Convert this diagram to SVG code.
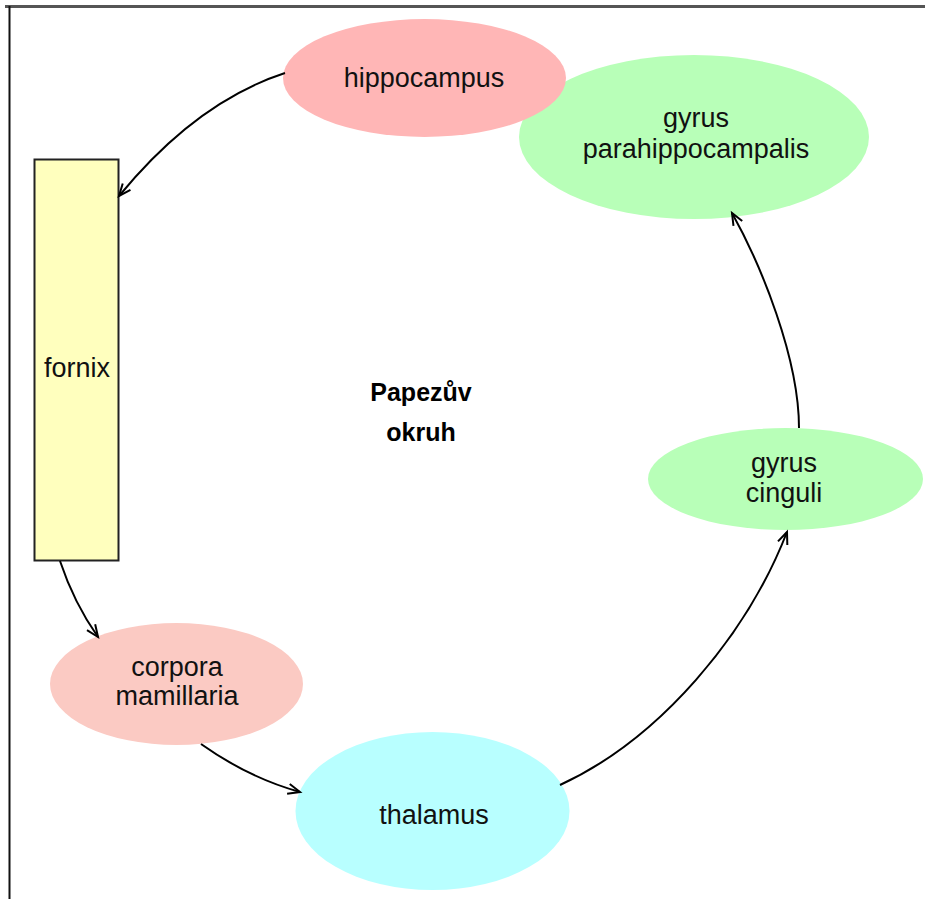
<svg xmlns="http://www.w3.org/2000/svg" width="925" height="899" viewBox="0 0 925 899">
<style>
.lbl{font-family:"Liberation Sans",Arial,sans-serif;font-size:27px;fill:#111;text-anchor:middle}
.ttl{font-family:"Liberation Sans",Arial,sans-serif;font-size:25px;font-weight:bold;fill:#000;text-anchor:middle}
.edge{fill:none;stroke:#000;stroke-width:2;marker-end:url(#ah)}
</style>
<defs>
<marker id="ah" markerUnits="userSpaceOnUse" markerWidth="16" markerHeight="16" refX="13" refY="6" orient="auto" viewBox="0 0 16 12">
<path d="M1,1 L13,6 L1,11" fill="none" stroke="#000" stroke-width="2"/>
</marker>
</defs>
<rect x="0" y="0" width="925" height="899" fill="#fff"/>
<line x1="5" y1="6.5" x2="925" y2="6.5" stroke="#555" stroke-width="3"/>
<line x1="9.5" y1="6" x2="9.5" y2="899" stroke="#111" stroke-width="2"/>

<g id="gyrus-parahippocampalis">
<ellipse cx="694" cy="137" rx="175" ry="82" fill="#b8ffb8"/>
<text class="lbl" x="696" y="127">gyrus</text>
<text class="lbl" x="696" y="158">parahippocampalis</text>
</g>
<g id="hippocampus">
<ellipse cx="424.5" cy="78" rx="141.5" ry="59" fill="#ffb6b6"/>
<text class="lbl" x="424" y="87">hippocampus</text>
</g>
<g id="fornix">
<rect x="34.5" y="159.5" width="84" height="401" fill="#ffffbe" stroke="#222" stroke-width="2"/>
<text class="lbl" x="77" y="377">fornix</text>
</g>
<g id="corpora-mamillaria">
<ellipse cx="176.5" cy="684" rx="126.5" ry="61" fill="#fbcac3"/>
<text class="lbl" x="177" y="676">corpora</text>
<text class="lbl" x="177" y="705">mamillaria</text>
</g>
<g id="thalamus">
<ellipse cx="432.5" cy="811" rx="137" ry="79" fill="#b8ffff"/>
<text class="lbl" x="434" y="824">thalamus</text>
</g>
<g id="gyrus-cinguli">
<ellipse cx="785.5" cy="479" rx="137.5" ry="51" fill="#b8ffb8"/>
<text class="lbl" x="784" y="472">gyrus</text>
<text class="lbl" x="784" y="502">cinguli</text>
</g>
<g id="title">
<text class="ttl" x="421" y="401">Papezův</text>
<text class="ttl" x="421" y="441">okruh</text>
</g>
<g id="connectors">
<path class="edge" d="M285,73 Q196,102 119,196"/>
<path class="edge" d="M60,561 Q74,603 98,637"/>
<path class="edge" d="M201,744 Q249,778 300,792"/>
<path class="edge" d="M560,785 C660,739 747,635 787,532"/>
<path class="edge" d="M799,428 C799,358 761,265 732,213"/>
</g>
</svg>
